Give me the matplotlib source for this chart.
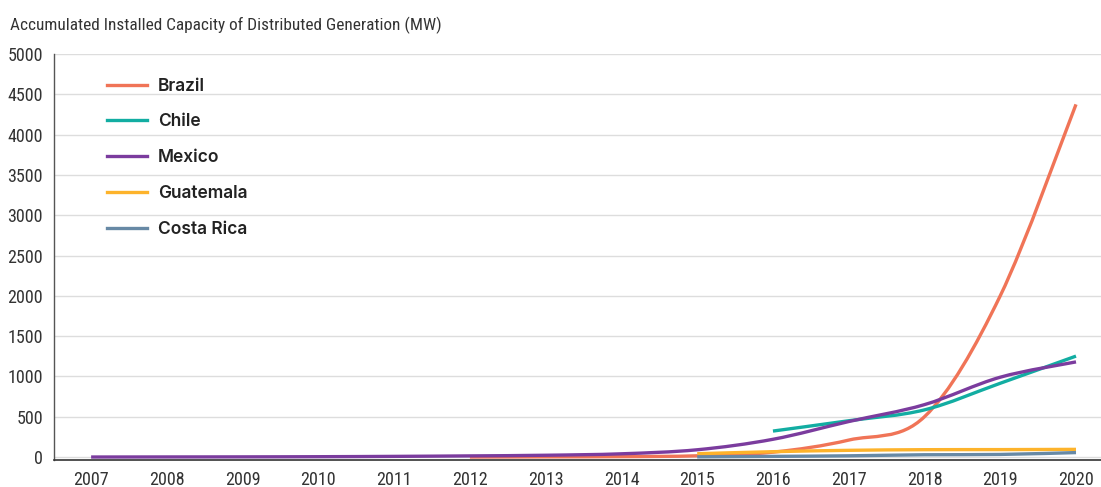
import numpy as np
import matplotlib.pyplot as plt
from matplotlib.path import Path
from matplotlib.patches import PathPatch
from matplotlib.lines import Line2D
from matplotlib import font_manager

years = list(range(2007, 2021))

brazil_years = [2012, 2013, 2014, 2015, 2016, 2017, 2018, 2019, 2020]
brazil = [0, 2, 5, 15, 60, 210, 500, 2000, 4375]

chile_years = [2016, 2017, 2018, 2019, 2020]
chile = [322, 450, 585, 915, 1252]

mexico_years = years
mexico = [0, 1, 2, 4, 8, 14, 22, 40, 90, 220, 440, 650, 990, 1180]

guatemala_years = [2015, 2016, 2017, 2018, 2019, 2020]
guatemala = [41, 66, 83, 91, 92, 95]

costa_rica_years = [2015, 2016, 2017, 2018, 2019, 2020]
costa_rica = [2, 8, 15, 28, 32, 55]

series = [
    ("Brazil", brazil_years, brazil, "#F07457"),
    ("Chile", chile_years, chile, "#12ADA2"),
    ("Mexico", mexico_years, mexico, "#7B3C9E"),
    ("Guatemala", guatemala_years, guatemala, "#FDB32B"),
    ("Costa Rica", costa_rica_years, costa_rica, "#6789A5"),
]

names = {f.name for f in font_manager.fontManager.ttflist}


def pick(options):
    for o in options:
        if o in names:
            return o
    return "DejaVu Sans"


narrow_font = pick(["Roboto Condensed", "Archivo Narrow", "PT Sans Narrow",
                    "Liberation Sans Narrow", "Open Sans Condensed"])
legend_font = pick(["Inter", "Roboto", "Lato"])


def spline_path(xs, ys):
    # smooth curve through the points (cubic Bezier, Catmull-Rom style)
    p = np.column_stack([xs, ys]).astype(float)
    verts = [p[0]]
    codes = [Path.MOVETO]
    n = len(p)
    for i in range(n - 1):
        p0 = p[i - 1] if i > 0 else p[i]
        p3 = p[i + 2] if i + 2 < n else p[i + 1]
        c1 = p[i] + (p[i + 1] - p0) / 6
        c2 = p[i + 1] - (p3 - p[i]) / 6
        verts += [c1, c2, p[i + 1]]
        codes += [Path.CURVE4] * 3
    return Path(verts, codes)


fig = plt.figure(figsize=(11.01, 4.87), dpi=100)
ax = fig.add_axes([54 / 1101, 27 / 487, 1 - 54 / 1101, (460 - 54) / 487])

handles = []
for name, xs, ys, color in series:
    patch = PathPatch(spline_path(xs, ys), facecolor="none", edgecolor=color,
                      lw=2.4, capstyle="butt", zorder=3)
    ax.add_patch(patch)
    handles.append(Line2D([], [], color=color, lw=2.4, label=name))

ax.set_xlim(2006.51, 2020.33)
ax.set_ylim(-37, 5000)
ax.set_xticks(years)
ax.set_yticks(range(0, 5001, 500))
ax.grid(axis="y", color="#dddddd", lw=1)
ax.set_axisbelow(True)
for s in ["top", "right"]:
    ax.spines[s].set_visible(False)
ax.spines["left"].set_color("#555555")
ax.spines["bottom"].set_color("#333333")
ax.spines["left"].set_linewidth(1)
ax.spines["bottom"].set_linewidth(1.2)
ax.tick_params(length=0, labelsize=13, colors="#333333", pad=8)
for lab in ax.get_xticklabels() + ax.get_yticklabels():
    lab.set_fontfamily(narrow_font)

fig.text(10 / 1101, 1 - 25 / 487, "Accumulated Installed Capacity of Distributed Generation (MW)",
         fontsize=12.4, color="#333333", va="center", family=narrow_font)

leg = ax.legend(handles=handles, loc="upper left", bbox_to_anchor=(0.036, 0.98),
                frameon=False, handlelength=2.3, handletextpad=0.6,
                labelspacing=1.08, prop={"size": 12.5, "weight": 600, "family": legend_font})
for t in leg.get_texts():
    t.set_color("#222222")

fig.savefig("out.png", dpi=100)
